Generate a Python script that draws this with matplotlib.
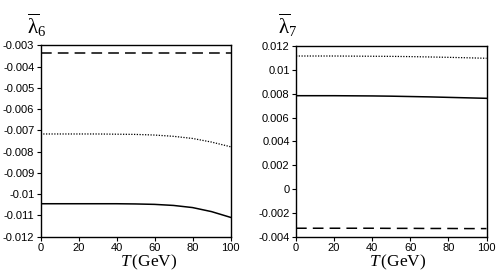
import numpy as np
import matplotlib
matplotlib.use('Agg')
import matplotlib.pyplot as plt

plt.rcParams['font.family'] = ['Liberation Sans', 'DejaVu Sans']
plt.rcParams['mathtext.fontset'] = 'custom'
plt.rcParams['mathtext.rm'] = 'Liberation Serif'
plt.rcParams['mathtext.it'] = 'Liberation Serif:italic'

# temperature grid (GeV)
T = [0, 10, 20, 30, 40, 50, 60, 70, 80, 90, 100]

# lambda_6 bar
l6_solid = [-0.01045, -0.01045, -0.01045, -0.01045, -0.01045, -0.01046,
            -0.01048, -0.01053, -0.01063, -0.01082, -0.01109]
l6_dot = [-0.00717, -0.00717, -0.00717, -0.00717, -0.00718, -0.00719,
          -0.00722, -0.00728, -0.00738, -0.00755, -0.00777]
l6_dash = [-0.00335] * 11

# lambda_7 bar
l7_solid = [0.00783, 0.00783, 0.00783, 0.00782, 0.00781, 0.00779,
            0.00776, 0.00773, 0.00769, 0.00765, 0.00761]
l7_dot = [0.01116, 0.01116, 0.01116, 0.01115, 0.01114, 0.01113,
          0.01111, 0.01108, 0.01105, 0.01101, 0.01097]
l7_dash = [-0.00329, -0.00329, -0.00329, -0.00329, -0.00329, -0.00330,
           -0.00330, -0.00331, -0.00331, -0.00332, -0.00332]

fig = plt.figure(figsize=(4.96, 2.73), dpi=100)
ax1 = fig.add_axes([40.5/496, 1 - 236.7/273, 190/496, 191.4/273])
ax2 = fig.add_axes([296/496, 1 - 236.7/273, 190.5/496, 190.7/273])

for ax, s, d, dd in [(ax1, l6_solid, l6_dot, l6_dash), (ax2, l7_solid, l7_dot, l7_dash)]:
    ax.plot(T, s, color='black', lw=1.1)
    ax.plot(T, d, color='black', lw=0.9, linestyle=(0, (1, 1.2)))
    ax.plot(T, dd, color='black', lw=1.1, linestyle=(0, (7, 4)))
    ax.set_xlim(0, 100)
    ax.set_xticks([0, 20, 40, 60, 80, 100])
    ax.tick_params(direction='out', length=3, width=0.8, labelsize=8, pad=1.5)
    for sp in ax.spines.values():
        sp.set_linewidth(1.0)
    ax.set_xlabel(r'$T\,\mathrm{(GeV)}$', fontsize=12.5, labelpad=-1)

ax1.xaxis.set_label_coords(0.57, -0.085)
ax2.xaxis.set_label_coords(0.535, -0.085)

ax1.set_ylim(-0.012, -0.003)
ax1.set_yticks(np.arange(-0.012, -0.0029, 0.001))
ax1.set_yticklabels(['-0.012', '-0.011', '-0.01', '-0.009', '-0.008', '-0.007',
                     '-0.006', '-0.005', '-0.004', '-0.003'])
ax2.set_ylim(-0.004, 0.012)
ax2.set_yticks(np.arange(-0.004, 0.0121, 0.002))
ax2.set_yticklabels(['-0.004', '-0.002', '0', '0.002', '0.004', '0.006',
                     '0.008', '0.01', '0.012'])

fig.text(27/496, 1 - 34/273, r'$\overline{\mathrm{\lambda}}_{\mathrm{6}}$', fontsize=15)
fig.text(278/496, 1 - 34/273, r'$\overline{\mathrm{\lambda}}_{\mathrm{7}}$', fontsize=15)

fig.savefig('out.png', dpi=100)
